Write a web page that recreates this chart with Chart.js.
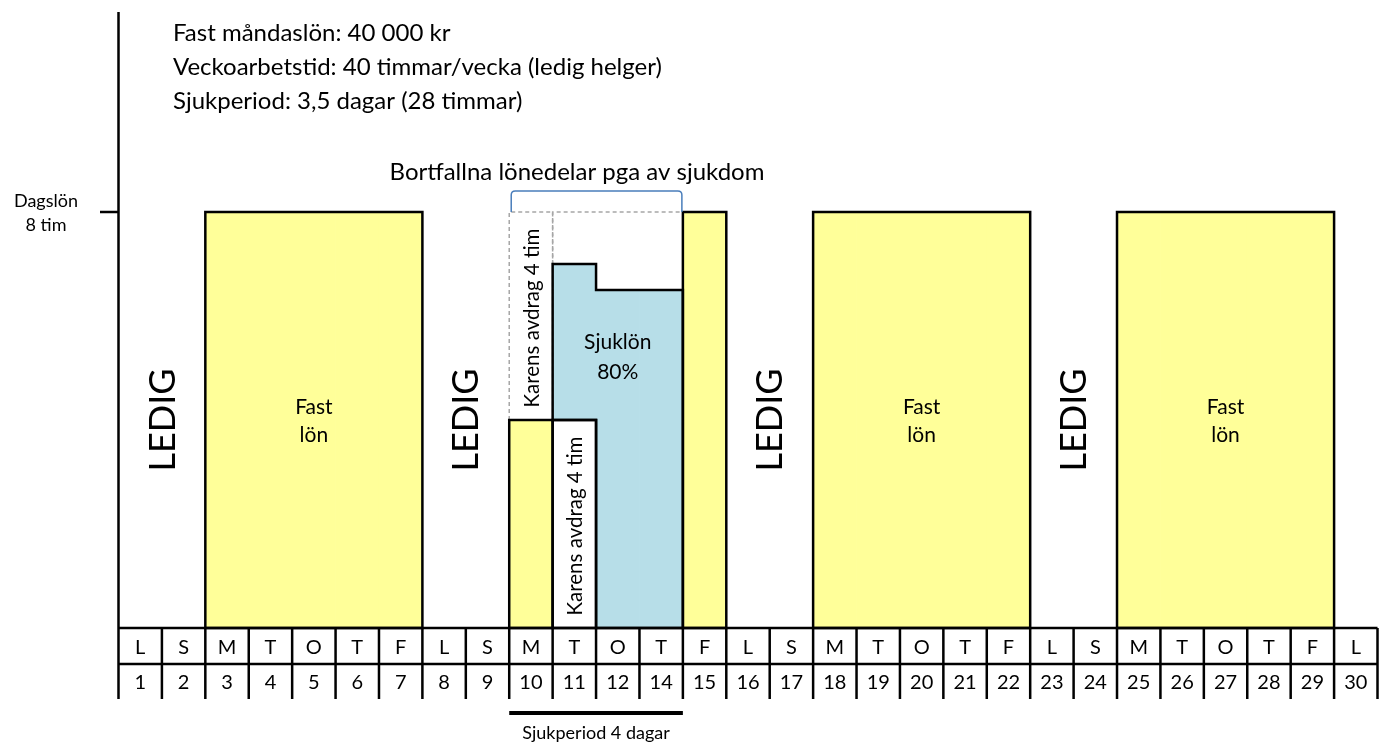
<!DOCTYPE html>
<html>
<head>
<meta charset="utf-8">
<script src="https://cdn.jsdelivr.net/npm/chart.js@4"></script>
<style>
  body { margin: 0; background: #fff; }
  canvas { display: block; }
</style>
</head>
<body>
<canvas id="sjuk-chart" width="1379" height="744"></canvas>
<script>
// dagar i månaden (13 saknas i originalet)
const days = ['1','2','3','4','5','6','7','8','9','10','11','12','14','15','16','17','18','19','20','21','22','23','24','25','26','27','28','29','30'];
const weekdays = ['L','S','M','T','O','T','F','L','S','M','T','O','T','F','L','S','M','T','O','T','F','L','S','M','T','O','T','F','L'];

// timmar per dag (8 = dagslön)
const fastLon      = [null,null,8,8,8,8,8,null,null,4,null,null,null,8,null,null,8,8,8,8,8,null,null,8,8,8,8,8,null];
const karensAvdrag = [null,null,null,null,null,null,null,null,null,null,4,null,null,null,null,null,null,null,null,null,null,null,null,null,null,null,null,null,null];
const sjuklon      = [null,null,null,null,null,null,null,null,null,null,3,6.5,6.5,null,null,null,null,null,null,null,null,null,null,null,null,null,null,null,null];
const karensDag1   = [null,null,null,null,null,null,null,null,null,4,null,null,null,null,null,null,null,null,null,null,null,null,null,null,null,null,null,null,null];
const bortfallet   = [null,null,null,null,null,null,null,null,null,null,1,1.5,1.5,null,null,null,null,null,null,null,null,null,null,null,null,null,null,null,null];

const ledigBlocks = [[0, 1], [7, 8], [14, 15], [21, 22]];
const fastBlocks = [[2, 6], [16, 20], [23, 27]];
const sickRange = [9, 12];
const infoLines = [
    'Fast måndaslön: 40 000 kr',
    'Veckoarbetstid: 40 timmar/vecka (ledig helger)',
    'Sjukperiod: 3,5 dagar (28 timmar)'
];

const FONT = 'Lato, "Open Sans", sans-serif';

function colEdges(chart, i) {
    const x = chart.scales.x;
    const w = x.getPixelForValue(1) - x.getPixelForValue(0);
    const c = x.getPixelForValue(i);
    return { left: c - w / 2, right: c + w / 2, center: c, width: w };
}

// draws one outline around every run of neighbouring bars in a dataset
const outlinePlugin = {
    id: 'outlines',
    afterDatasetsDraw(chart) {
        const ctx = chart.ctx;
        const order = chart.data.datasets
            .map((ds, i) => i)
            .sort((a, b) => (chart.data.datasets[a].outline.dash ? 0 : 1) - (chart.data.datasets[b].outline.dash ? 0 : 1));
        order.forEach(di => {
            const ds = chart.data.datasets[di];
            const meta = chart.getDatasetMeta(di);
            const runs = [];
            let run = [];
            ds.data.forEach((v, i) => {
                if(v != null) {
                    run.push(meta.data[i]);
                } else if(run.length) {
                    runs.push(run); run = [];
                }
            });
            if(run.length) runs.push(run);

            ctx.save();
            ctx.strokeStyle = ds.outline.color;
            ctx.lineWidth = ds.outline.width;
            ctx.setLineDash(ds.outline.dash || []);
            runs.forEach(r => {
                const bars = r.map(el => el.getProps(['x', 'y', 'base', 'width'], true));
                ctx.beginPath();
                ctx.moveTo(bars[0].x - bars[0].width / 2, bars[0].base);
                ctx.lineTo(bars[0].x - bars[0].width / 2, bars[0].y);
                bars.forEach((b, k) => {
                    ctx.lineTo(b.x + b.width / 2, b.y);
                    if(k < bars.length - 1) ctx.lineTo(b.x + b.width / 2, bars[k + 1].y);
                });
                for(let k = bars.length - 1; k >= 0; k--) {
                    const b = bars[k];
                    ctx.lineTo(b.x + b.width / 2, b.base);
                    ctx.lineTo(b.x - b.width / 2, b.base);
                }
                ctx.closePath();
                ctx.stroke();
            });
            ctx.restore();
        });
    }
};

// texts, axis line, day table and brackets
const decorPlugin = {
    id: 'decor',
    afterDraw(chart) {
        const ctx = chart.ctx;
        const y = chart.scales.y;
        const area = chart.chartArea;
        const base = y.getPixelForValue(0);
        const top = y.getPixelForValue(8);
        ctx.save();
        ctx.fillStyle = '#000';
        ctx.strokeStyle = '#000';
        ctx.textBaseline = 'middle';

        // info text
        ctx.font = '24px ' + FONT;
        ctx.textAlign = 'left';
        infoLines.forEach((t, i) => ctx.fillText(t, 173, 33 + i * 34));

        // vertical axis with dagslön tick
        ctx.lineWidth = 2.5;
        ctx.beginPath();
        ctx.moveTo(area.left, 12);
        ctx.lineTo(area.left, base + 71);
        ctx.moveTo(100, top);
        ctx.lineTo(area.left, top);
        ctx.stroke();
        ctx.font = '18px ' + FONT;
        ctx.textAlign = 'center';
        ctx.fillText('Dagslön', 46, top - 11);
        ctx.fillText('8 tim', 46, top + 13);

        // day table
        ctx.beginPath();
        ctx.moveTo(area.left, base);
        ctx.lineTo(area.right, base);
        ctx.moveTo(area.left, base + 36);
        ctx.lineTo(area.right, base + 36);
        days.forEach((d, i) => {
            const e = colEdges(chart, i);
            ctx.moveTo(e.right, base);
            ctx.lineTo(e.right, base + 71);
        });
        ctx.stroke();
        ctx.font = '20px ' + FONT;
        days.forEach((d, i) => {
            const e = colEdges(chart, i);
            ctx.fillText(weekdays[i], e.center, base + 20);
            ctx.fillText(d, e.center, base + 55);
        });

        // LEDIG
        ctx.font = '36px ' + FONT;
        ledigBlocks.forEach(([a, b]) => {
            const cx = (colEdges(chart, a).left + colEdges(chart, b).right) / 2;
            ctx.save();
            ctx.translate(cx, y.getPixelForValue(4));
            ctx.rotate(-Math.PI / 2);
            ctx.fillText('LEDIG', 0, 1);
            ctx.restore();
        });

        // Fast lön
        ctx.font = '21px ' + FONT;
        fastBlocks.forEach(([a, b]) => {
            const cx = (colEdges(chart, a).left + colEdges(chart, b).right) / 2;
            const cy = y.getPixelForValue(4);
            ctx.fillText('Fast', cx, cy - 13);
            ctx.fillText('lön', cx, cy + 15);
        });

        // sjuklön label
        const sickL = colEdges(chart, sickRange[0]).left;
        const sickR = colEdges(chart, sickRange[1]).right;
        const sjukX = (colEdges(chart, sickRange[0] + 1).left + sickR) / 2;
        ctx.fillText('Sjuklön', sjukX, y.getPixelForValue(5.2) - 15);
        ctx.fillText('80%', sjukX, y.getPixelForValue(5.2) + 15);

        // karens labels (rotated)
        ctx.font = '20.5px ' + FONT;
        [[sickRange[0], 6], [sickRange[0] + 1, 2]].forEach(([i, v]) => {
            ctx.save();
            ctx.translate(colEdges(chart, i).center + 1, y.getPixelForValue(v) + 2);
            ctx.rotate(-Math.PI / 2);
            ctx.fillText('Karens avdrag 4 tim', 0, 0);
            ctx.restore();
        });

        // bracket over lost parts
        ctx.strokeStyle = '#4A7EBB';
        ctx.lineWidth = 1.5;
        const bl = sickL + 2, br = sickR - 1, bt = top - 21, r = 4;
        ctx.beginPath();
        ctx.moveTo(bl, top);
        ctx.lineTo(bl, bt + r);
        ctx.quadraticCurveTo(bl, bt, bl + r, bt);
        ctx.lineTo(br - r, bt);
        ctx.quadraticCurveTo(br, bt, br, bt + r);
        ctx.lineTo(br, top);
        ctx.stroke();
        ctx.font = '24px ' + FONT;
        ctx.fillText('Bortfallna lönedelar pga av sjukdom', 577, 172);

        // sjukperiod bar
        ctx.strokeStyle = '#000';
        ctx.lineWidth = 4;
        ctx.beginPath();
        ctx.moveTo(sickL, base + 85);
        ctx.lineTo(sickR, base + 85);
        ctx.stroke();
        ctx.font = '18px ' + FONT;
        ctx.fillText('Sjukperiod 4 dagar', (sickL + sickR) / 2, base + 105);
        ctx.restore();
    }
};

const solid = { color: '#000', width: 2.5 };
const dashed = { color: '#A6A6A6', width: 1.5, dash: [4, 3] };

new Chart(document.getElementById('sjuk-chart'), {
    type: 'bar',
    data: {
        labels: days,
        datasets: [
            { label: 'Fast lön', data: fastLon, backgroundColor: '#FFFF99', outline: solid },
            { label: 'Karens avdrag', data: karensAvdrag, backgroundColor: '#FFFFFF', outline: solid },
            { label: 'Sjuklön 80%', data: sjuklon, backgroundColor: '#B7DEE8', outline: solid },
            { label: 'Karens avdrag dag 1', data: karensDag1, backgroundColor: 'rgba(255,255,255,0)', outline: dashed },
            { label: 'Bortfallen lön', data: bortfallet, backgroundColor: 'rgba(255,255,255,0)', outline: dashed }
        ]
    },
    options: {
        responsive: false,
        animation: false,
        layout: { padding: { left: 118.5, right: 1.5, top: 212, bottom: 116 } },
        datasets: {
            bar: { barPercentage: 1, categoryPercentage: 1, borderWidth: 0 }
        },
        scales: {
            x: { display: false, stacked: true },
            y: { display: false, stacked: true, min: 0, max: 8 }
        },
        plugins: {
            legend: { display: false },
            tooltip: { enabled: false }
        }
    },
    plugins: [outlinePlugin, decorPlugin]
});
</script>
</body>
</html>
